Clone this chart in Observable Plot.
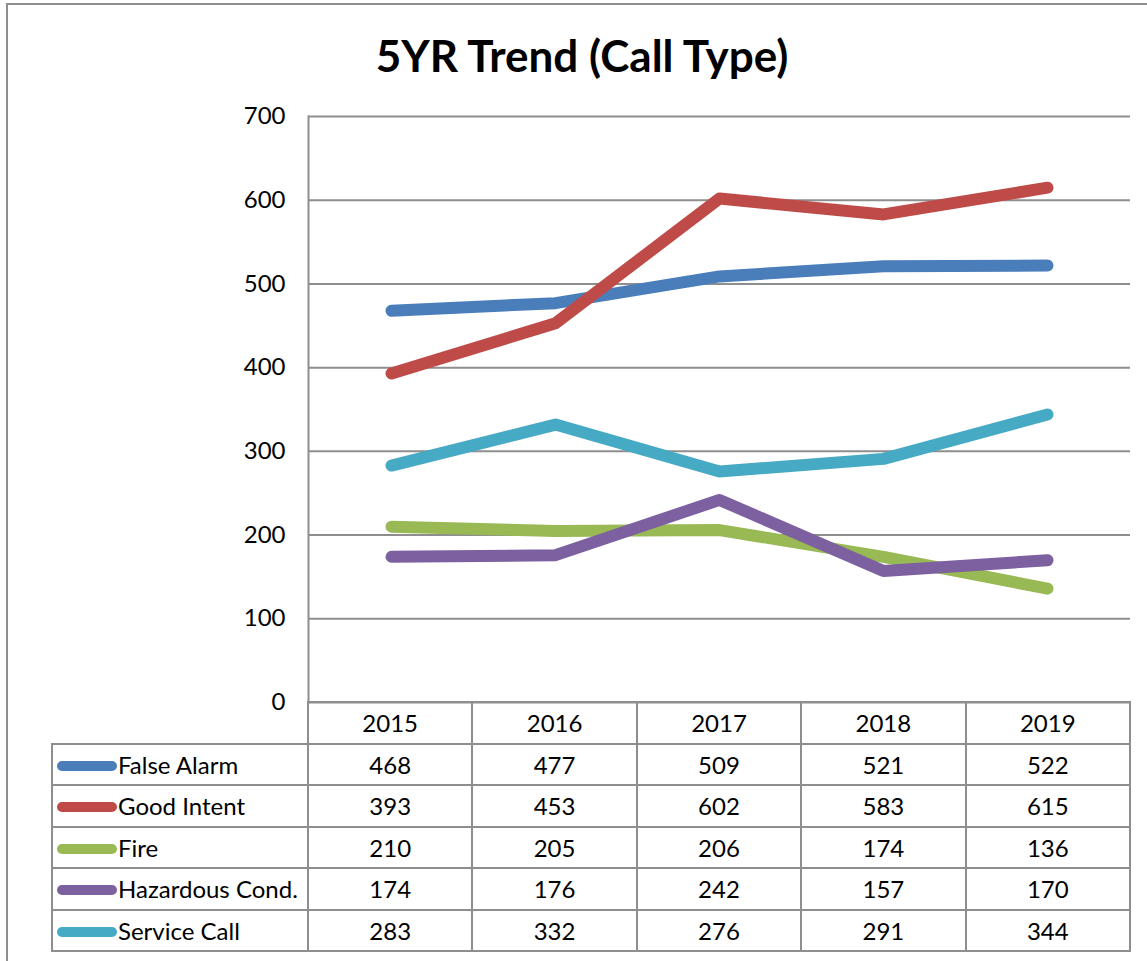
<!DOCTYPE html>
<html><head><meta charset="utf-8">
<script src="https://cdn.jsdelivr.net/npm/d3@7"></script>
<script src="https://cdn.jsdelivr.net/npm/@observablehq/plot@0.6"></script>
<style>
body{margin:0;background:#fff;font-family:Lato,"Open Sans",sans-serif;color:#000}
#wrap{position:relative;width:1147px;height:961px;overflow:hidden;background:#fff}
#frame{position:absolute;left:6px;top:3px;width:1300px;height:1200px;border:2px solid #8e8e8e}
#title{position:absolute;left:0;width:1164px;top:29px;text-align:center;font-weight:bold;font-size:44px;line-height:52px}
#chart{position:absolute;left:0;top:0}
#tbl{position:absolute;left:51px;top:701px;border-collapse:collapse;table-layout:fixed;font-size:24px;width:1080px}
#tbl td{border:2px solid #8e8e8e;text-align:center;padding:0;white-space:nowrap;overflow:hidden}
#tbl tr{height:41.5px}
#tbl td.lab{text-align:left;padding-left:4px}
#tbl td.blank{border-top:hidden;border-left:hidden}
.sw{display:inline-block;width:60px;height:10px;border-radius:5px;vertical-align:middle;margin-right:1px;position:relative;top:-2px}
</style></head>
<body>
<div id="wrap">
  <div id="frame"></div>
  <div id="chart"></div>
  <div id="title"></div>
  <table id="tbl"></table>
</div>
<script>
const titleText = "5YR Trend (Call Type)";
const years = ["2015", "2016", "2017", "2018", "2019"];
const seriesNames = ["False Alarm", "Good Intent", "Fire", "Hazardous Cond.", "Service Call"];
const falseAlarm = [468, 477, 509, 521, 522];
const goodIntent = [393, 453, 602, 583, 615];
const fire = [210, 205, 206, 174, 136];
const hazardousCond = [174, 176, 242, 157, 170];
const serviceCall = [283, 332, 276, 291, 344];
const seriesColors = ["#4a7ebb", "#be4b48", "#98b954", "#7d60a0", "#46aac5"];
const yTicks = [0, 100, 200, 300, 400, 500, 600, 700];

const seriesValues = [falseAlarm, goodIntent, fire, hazardousCond, serviceCall];
const data = seriesNames.flatMap((s, i) => years.map((yr, j) => ({series: s, year: yr, value: seriesValues[i][j]})));

document.getElementById("title").textContent = titleText;

const chart = Plot.plot({
  width: 1147,
  height: 730,
  marginLeft: 308,
  marginRight: 17,
  marginTop: 116,
  marginBottom: 28,
  style: {fontFamily: "Lato, 'Open Sans', sans-serif", background: "transparent", color: "#000"},
  x: {type: "point", domain: years, padding: 0.5, axis: null},
  y: {domain: [0, 700], ticks: yTicks, axis: null},
  color: {domain: seriesNames, range: seriesColors},
  marks: [
    Plot.gridY(yTicks, {stroke: "#8e8e8e", strokeOpacity: 1, strokeWidth: 2}),
    Plot.frame({anchor: "left", stroke: "#8e8e8e", strokeWidth: 2}),
    Plot.axisY(yTicks, {tickSize: 0, tickPadding: 23, fontSize: 24, label: null, tickFormat: d => String(d), fill: "#000"}),
    Plot.lineY(data, {x: "year", y: "value", z: "series", stroke: "series", strokeWidth: 12, strokeLinecap: "round", strokeLinejoin: "round"})
  ]
});
document.getElementById("chart").appendChild(chart);

// data table (legend)
const tbl = document.getElementById("tbl");
const cg = document.createElement("colgroup");
[256, ...years.map(() => 164.4)].forEach(w => { const c = document.createElement("col"); c.style.width = w + "px"; cg.appendChild(c); });
tbl.appendChild(cg);
const hr = document.createElement("tr");
const b = document.createElement("td"); b.className = "blank"; hr.appendChild(b);
years.forEach(yr => { const td = document.createElement("td"); td.textContent = yr; hr.appendChild(td); });
tbl.appendChild(hr);
seriesNames.forEach((s, i) => {
  const tr = document.createElement("tr");
  const lab = document.createElement("td"); lab.className = "lab";
  const sw = document.createElement("span"); sw.className = "sw"; sw.style.background = seriesColors[i];
  lab.appendChild(sw); lab.appendChild(document.createTextNode(s));
  tr.appendChild(lab);
  seriesValues[i].forEach(v => { const td = document.createElement("td"); td.textContent = v; tr.appendChild(td); });
  tbl.appendChild(tr);
});
</script>
</body></html>
